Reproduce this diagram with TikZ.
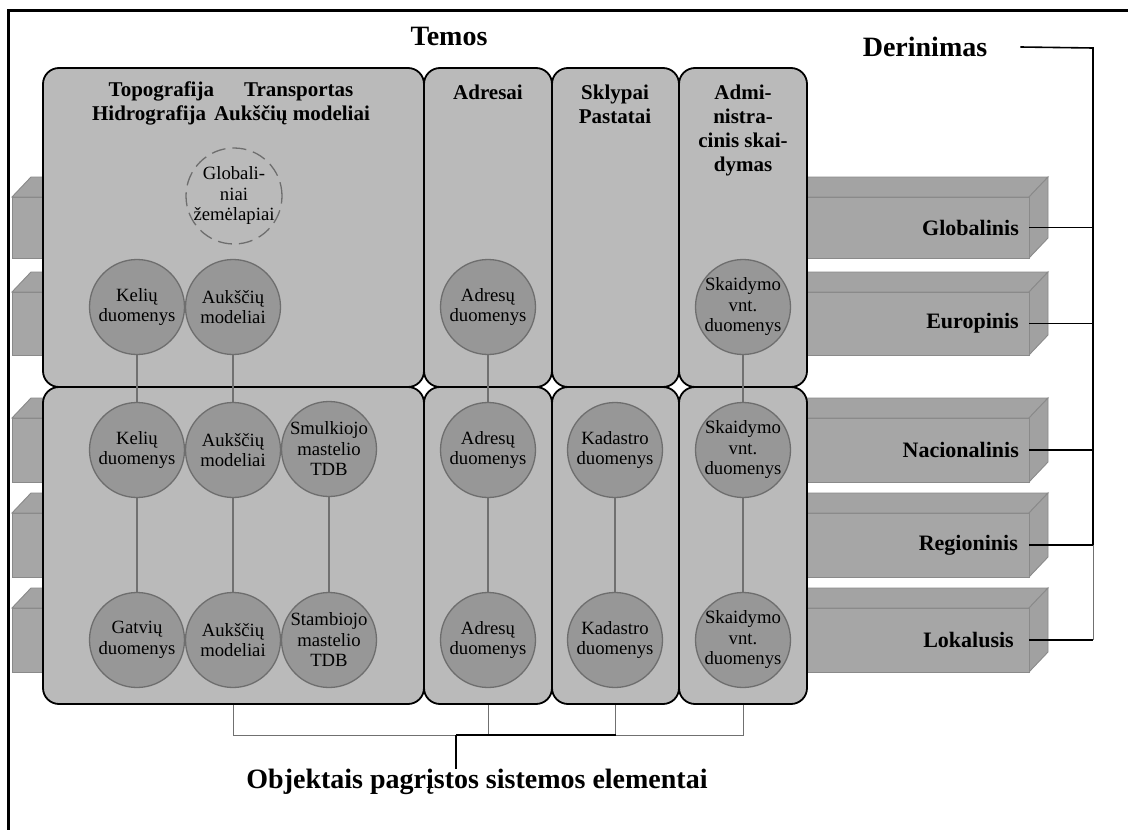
\documentclass[tikz,border=0pt]{standalone}
\usepackage{fontspec}
\setmainfont{Liberation Serif}
\definecolor{boxg}{HTML}{BABABA}
\definecolor{cfill}{HTML}{979797}
\definecolor{cedge}{HTML}{6E6E6E}
\definecolor{barf}{HTML}{A6A6A6}
\definecolor{bart}{HTML}{A3A3A3}
\definecolor{bars}{HTML}{A1A1A1}
\definecolor{bare}{HTML}{8A8A8A}
\definecolor{linkg}{HTML}{707070}
\tikzset{
  themebox/.style={rectangle, draw=black, line width=1.8pt, fill=boxg, rounded corners=16pt, inner sep=0pt},
  circ/.style={circle, draw=cedge, line width=1.3pt, fill=cfill, minimum size=95pt, inner sep=-6pt, align=center, font=\fontsize{18.7}{20.5}\selectfont},
  dcirc/.style={circle, draw=cedge, line width=1.3pt, dash pattern=on 14pt off 7pt, minimum size=96pt, inner sep=-6pt, align=center, font=\fontsize{18.7}{20.5}\selectfont},
  hdr/.style={align=center, inner sep=0pt, font=\bfseries\fontsize{21}{24}\selectfont},
  title/.style={inner sep=0pt, font=\bfseries\fontsize{28}{32}\selectfont},
  barlabel/.style={anchor=east, inner sep=0pt, font=\bfseries\fontsize{22}{26}\selectfont},
  link/.style={draw=linkg, line width=1.4pt},
  derline/.style={draw=black, line width=1.6pt},
  tickline/.style={draw=black, line width=1.1pt},
  thinline/.style={draw=linkg, line width=1pt},
  boldline/.style={draw=black, line width=1.8pt},
  barface/.style={fill=barf, draw=bare, line width=0.9pt},
  bartopface/.style={fill=bart, draw=bare, line width=0.9pt},
  barsideface/.style={fill=bars, draw=bare, line width=0.9pt}
}
\begin{document}
\begin{tikzpicture}[x=1pt, y=-1pt]
\useasboundingbox (0,0) rectangle (1128,830);
\clip (0,0) rectangle (1128,830);
\fill[white] (0,0) rectangle (1128,830);
% outer frame
\draw[line width=3pt] (8,845) -- (8,10) -- (1145,10);

% level bars (behind the theme boxes)
\foreach \yt/\yb/\nm/\lab/\lx in {197/258/glR/Globalinis/1019, 292/355/euR/Europinis/1019, 418/482/naR/Nacionalinis/1019, 513/577/reR/Regioninis/1018, 608/672/loR/Lokalusis/1014}{
  \path[bartopface] (12,\yt) -- (31,\yt-20) -- (1048,\yt-20) -- (1029,\yt) -- cycle;
  \path[barsideface] (1029,\yt) -- (1048,\yt-20) -- (1048,\yb-20) -- (1029,\yb) -- cycle;
  \path[barface] (12,\yt) rectangle (1029,\yb);
  \node[barlabel] (lab\nm) at (\lx,{(\yt+\yb)/2}) {\lab};
  \coordinate (\nm) at (1029,{(\yt+\yb)/2});
}

% theme boxes, upper row
\node[themebox, minimum width=381pt, minimum height=319pt] (t1) at (233.5,227.5) {};
\node[themebox, minimum width=128pt, minimum height=319pt] (t2) at (488,227.5) {};
\node[themebox, minimum width=127pt, minimum height=319pt] (t3) at (615.5,227.5) {};
\node[themebox, minimum width=128pt, minimum height=319pt] (t4) at (743,227.5) {};
% theme boxes, lower row
\node[themebox, minimum width=381pt, minimum height=317pt] (b1) at (233.5,545.5) {};
\node[themebox, minimum width=128pt, minimum height=317pt] (b2) at (488,545.5) {};
\node[themebox, minimum width=127pt, minimum height=317pt] (b3) at (615.5,545.5) {};
\node[themebox, minimum width=128pt, minimum height=317pt] (b4) at (743,545.5) {};

% headers
\node[hdr] (h1) at (231,103) {Topografija\hspace{30pt}Transportas\\Hidrografija\hspace{8pt}Aukščių modeliai};
\node[hdr] (h2) at (488,92) {Adresai};
\node[hdr] (h3) at (615,104) {Sklypai\\Pastatai};
\node[hdr] (h4) at (743,130) {Admi-\\nistra-\\cinis skai-\\dymas};

% titles
\node[title] (temos) at (449,36) {Temos};
\node[title] (der) at (925,47) {Derinimas};
\node[title] (obj) at (477,782) {Objektais pagrįstos sistemos elementai};

% circles
\node[dcirc] (glob) at (234,196) {Globali-\\niai\\žemėlapiai};
\node[circ] (k0) at (137,307) {Kelių\\duomenys};
\node[circ] (a0) at (233,307) {Aukščių\\modeliai};
\node[circ] (ad0) at (488,307) {Adresų\\duomenys};
\node[circ] (s0) at (743,307) {Skaidymo\\vnt.\\duomenys};

\node[circ] (k1) at (137,450) {Kelių\\duomenys};
\node[circ] (a1) at (233,450) {Aukščių\\modeliai};
\node[circ] (sm) at (329,449) {Smulkiojo\\mastelio\\TDB};
\node[circ] (ad1) at (488,450) {Adresų\\duomenys};
\node[circ] (ka1) at (615,450) {Kadastro\\duomenys};
\node[circ] (s1) at (743,450) {Skaidymo\\vnt.\\duomenys};

\node[circ] (g2) at (137,640) {Gatvių\\duomenys};
\node[circ] (a2) at (233,640) {Aukščių\\modeliai};
\node[circ] (st) at (329,640) {Stambiojo\\mastelio\\TDB};
\node[circ] (ad2) at (488,640) {Adresų\\duomenys};
\node[circ] (ka2) at (615,640) {Kadastro\\duomenys};
\node[circ] (s2) at (743,640) {Skaidymo\\vnt.\\duomenys};

% links between circles
\draw[link] (k0) -- (k1);
\draw[link] (a0) -- (a1);
\draw[link] (ad0) -- (ad1);
\draw[link] (s0) -- (s1);
\draw[link] (k1) -- (g2);
\draw[link] (a1) -- (a2);
\draw[link] (sm) -- (st);
\draw[link] (ad1) -- (ad2);
\draw[link] (ka1) -- (ka2);
\draw[link] (s1) -- (s2);

% Derinimas bracket
\coordinate (brk) at (1093,48);
\draw[derline] ([xshift=33pt]der.east) -- (brk) -- (brk |- reR);
\draw[thinline] (brk |- reR) -- (brk |- loR);
\foreach \nm in {glR, euR, naR, reR, loR}{
  \draw[tickline] (\nm) -- (\nm -| brk);
}

% bottom bracket
\coordinate (hb) at (456,735);
\draw[thinline] (b1.south) |- (hb);
\draw[thinline] (b2.south) -- (b2.south |- hb);
\draw[thinline] (b3.south) -- (b3.south |- hb);
\draw[thinline] (b4.south) |- (b3.south |- hb);
\draw[boldline] (hb) -- (b3.south |- hb);
\draw[boldline] (hb) -- (hb |- obj.north);
\end{tikzpicture}
\end{document}
